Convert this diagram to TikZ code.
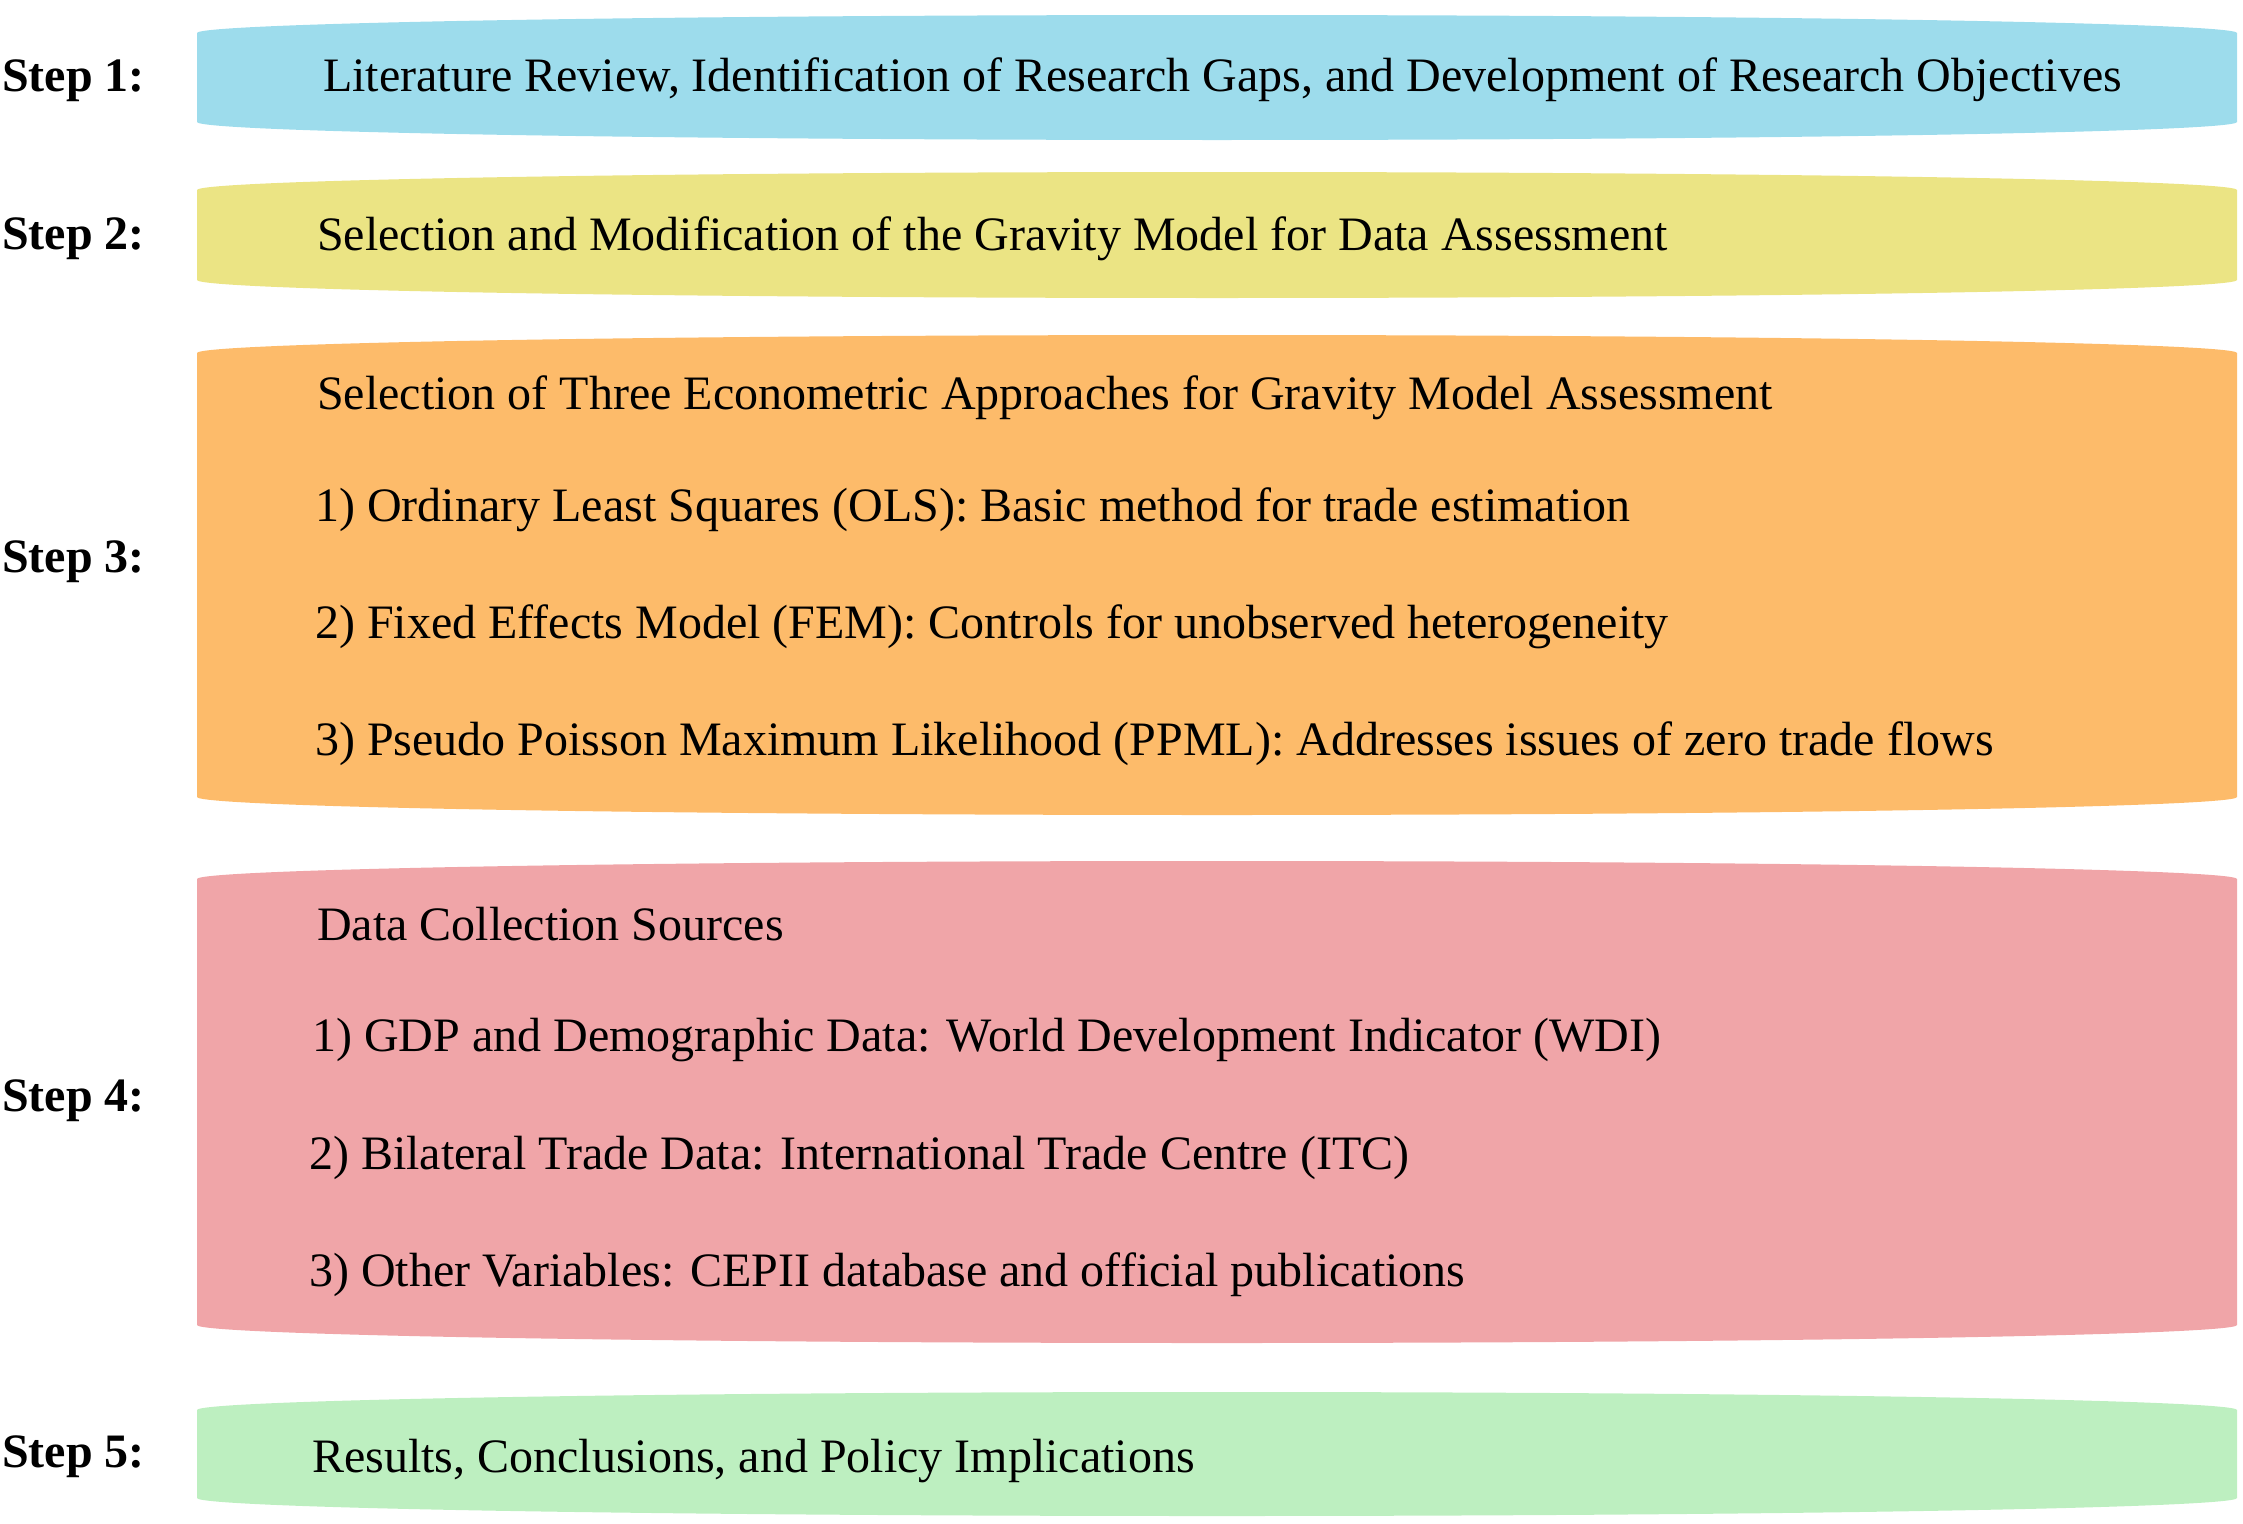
\documentclass[tikz,border=0pt]{standalone}
\usepackage{fontspec}
\setmainfont{Liberation Serif}
\definecolor{cblue}{RGB}{157,220,236}
\definecolor{cyellow}{RGB}{235,228,132}
\definecolor{corange}{RGB}{253,187,106}
\definecolor{cpink}{RGB}{240,165,168}
\definecolor{cgreen}{RGB}{189,239,192}
\begin{document}
\begin{tikzpicture}[x=1pt,y=-1pt,
  steplabel/.style={anchor=base west,inner sep=0pt,font=\fontsize{48}{56}\selectfont\bfseries},
  boxtext/.style={anchor=base west,inner sep=0pt,font=\fontsize{48}{56}\selectfont}]
\useasboundingbox (0,0) rectangle (2243,1523);
\newcommand{\barrel}[3]{%
  \fill[#1] (197,#2) arc[start angle=180,end angle=360,x radius=1020,y radius=18]
    -- (2237,#3) arc[start angle=0,end angle=180,x radius=1020,y radius=18] -- cycle;}
\barrel{cblue}{33}{122}
\barrel{cyellow}{190}{280}
\barrel{corange}{353}{797}
\barrel{cpink}{879}{1325}
\barrel{cgreen}{1410}{1498}
% step labels
\node[steplabel] (s1) at (2,91) {Step 1:};
\node[steplabel] (s2) at (2,249) {Step 2:};
\node[steplabel] (s3) at (2,572) {Step 3:};
\node[steplabel] (s4) at (2,1111) {Step 4:};
\node[steplabel] (s5) at (2,1467) {Step 5:};
% box texts
\node[boxtext] (t1) at (323,91) {Literature Review, Identification of Research Gaps, and Development of Research Objectives};
\node[boxtext] (t2) at (317,250) {Selection and Modification of the Gravity Model for Data Assessment};
\node[boxtext] (t3a) at (317,409) {Selection of Three Econometric Approaches for Gravity Model Assessment};
\node[boxtext] (t3b) at (315,521) {1) Ordinary Least Squares (OLS): Basic method for trade estimation};
\node[boxtext] (t3c) at (315,638) {2) Fixed Effects Model (FEM): Controls for unobserved heterogeneity};
\node[boxtext] (t3d) at (315,755) {3) Pseudo Poisson Maximum Likelihood (PPML): Addresses issues of zero trade flows};
\node[boxtext] (t4a) at (317,940) {Data Collection Sources};
\node[boxtext] (t4b) at (312,1051) {1) GDP and Demographic Data: World Development Indicator (WDI)};
\node[boxtext] (t4c) at (309,1169) {2) Bilateral Trade Data: International Trade Centre (ITC)};
\node[boxtext] (t4d) at (309,1286) {3) Other Variables: CEPII database and official publications};
\node[boxtext] (t5) at (312,1472) {Results, Conclusions, and Policy Implications};
\end{tikzpicture}
\end{document}
